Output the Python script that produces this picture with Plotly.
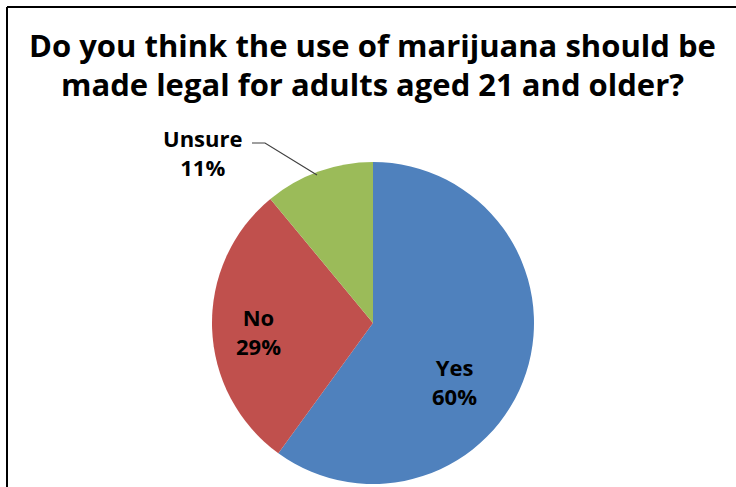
import plotly.graph_objects as go

labels = ["Yes", "No", "Unsure"]
values = [60, 29, 11]
colors = ["#4F81BD", "#C0504D", "#9BBB59"]
title_lines = ["Do you think the use of marijuana should be",
               "made legal for adults aged 21 and older?"]

W, H = 736, 487
FONT = "'Open Sans', Lato, sans-serif"

def px(x):
    return x / W

def py(y):
    return 1 - y / H

cx, cy, r = 373, 323, 161

fig = go.Figure(go.Pie(
    labels=labels,
    values=values,
    marker=dict(colors=colors),
    sort=False,
    direction="clockwise",
    rotation=0,
    textinfo="none",
    hoverinfo="label+percent",
    showlegend=False,
    domain=dict(x=[px(cx - r), px(cx + r)], y=[py(cy + r), py(cy - r)]),
))

# Label positions (pixel centres of each label block)
label_pos = [(454, 381), (258, 331), (203, 153)]
total = sum(values)
for lab, val, (lx, ly) in zip(labels, values, label_pos):
    fig.add_annotation(
        x=px(lx), y=py(ly), xref="paper", yref="paper",
        text=f"<b>{lab}<br>{round(100 * val / total)}%</b>", showarrow=False,
        font=dict(family=FONT, size=22, color="black"),
        xanchor="center", yanchor="middle",
    )

# Leader line for Unsure
fig.add_shape(type="path", xref="paper", yref="paper",
              path=f"M {px(252)} {py(143)} L {px(265)} {py(143)} L {px(317)} {py(175)}",
              line=dict(color="#404040", width=1.2))

# Title (two lines, tight spacing)
for i, line in enumerate(title_lines):
    fig.add_annotation(
        x=px(372), y=py(45 + 39 * i), xref="paper", yref="paper",
        text=f"<b>{line}</b>", showarrow=False,
        font=dict(family=FONT, size=31, color="black"),
        xanchor="center", yanchor="middle",
    )

# Border lines (top and left)
fig.add_shape(type="line", xref="paper", yref="paper",
              x0=px(7), y0=py(7), x1=1.0, y1=py(7), line=dict(color="black", width=2))
fig.add_shape(type="line", xref="paper", yref="paper",
              x0=px(7), y0=py(7), x1=px(7), y1=0, line=dict(color="black", width=2))

fig.update_layout(
    width=W, height=H,
    margin=dict(l=0, r=0, t=0, b=0),
    paper_bgcolor="white",
    plot_bgcolor="white",
)

fig.write_html("out.html", config={"displayModeBar": False},
               post_script="document.body.style.margin='0';")
